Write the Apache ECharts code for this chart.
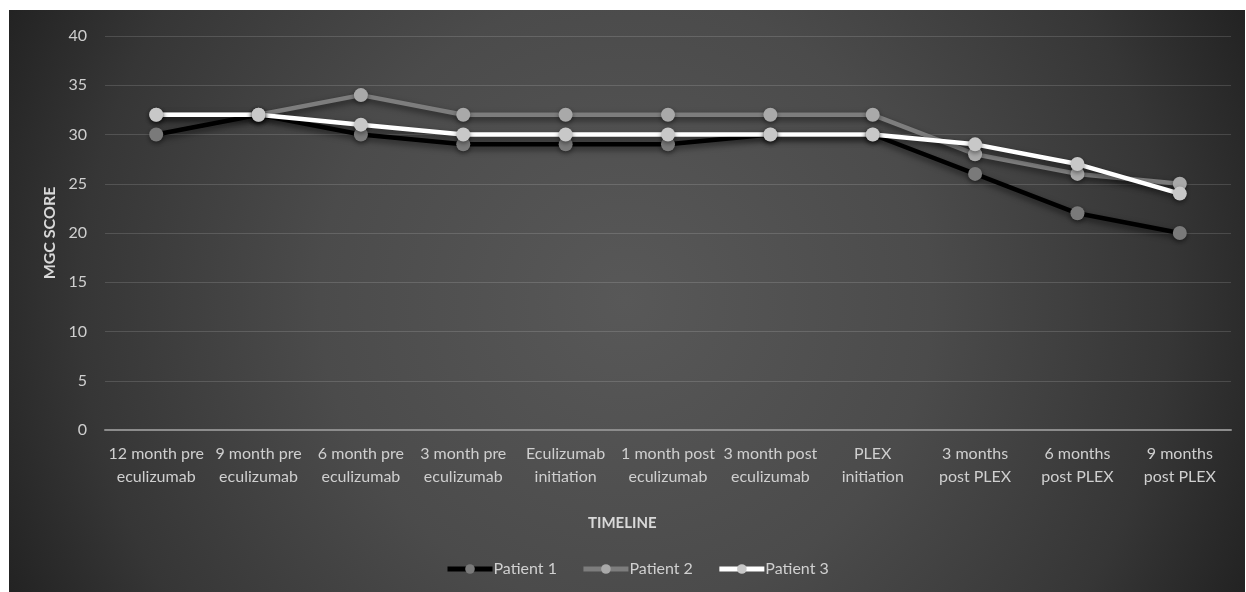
<!DOCTYPE html>
<html>
<head>
<meta charset="utf-8">
<style>
  html, body { margin: 0; padding: 0; background: #ffffff; }
  #chart { width: 1246px; height: 592px; }
</style>
<script src="https://cdn.jsdelivr.net/npm/echarts@6/dist/echarts.min.js"></script>
</head>
<body>
<div id="chart"></div>
<script>
// Timeline categories (two-line labels)
const categories = [
  '12 month pre\neculizumab', '9 month pre\neculizumab', '6 month pre\neculizumab',
  '3 month pre\neculizumab', 'Eculizumab\ninitiation', '1 month post\neculizumab',
  '3 month post\neculizumab', 'PLEX\ninitiation', '3 months\npost PLEX',
  '6 months\npost PLEX', '9 months\npost PLEX'
];

// MGC scores per patient
const patient1 = [30, 32, 30, 29, 29, 29, 30, 30, 26, 22, 20];
const patient2 = [32, 32, 34, 32, 32, 32, 32, 32, 28, 26, 25];
const patient3 = [32, 32, 31, 30, 30, 30, 30, 30, 29, 27, 24];

const seriesNames = ['Patient 1', 'Patient 2', 'Patient 3'];
const yTitle = 'MGC SCORE';
const xTitle = 'TIMELINE';

const FONT = 'Lato, "Open Sans", sans-serif';

const chart = echarts.init(document.getElementById('chart'));

function lineSeries(name, data, lineColor, markerColor) {
  return {
    name: name,
    type: 'line',
    data: data,
    symbol: 'circle',
    symbolSize: 14,
    lineStyle: {
      color: lineColor,
      width: 4.5,
      shadowColor: 'rgba(0,0,0,0.55)',
      shadowBlur: 6,
      shadowOffsetY: 3
    },
    itemStyle: {
      color: markerColor,
      borderWidth: 0,
      shadowColor: 'rgba(0,0,0,0.45)',
      shadowBlur: 5,
      shadowOffsetY: 2
    },
    emphasis: { disabled: true },
    animation: false
  };
}

chart.setOption({
  animation: false,
  graphic: [
    {
      // dark panel with a soft central highlight
      type: 'rect',
      z: -10,
      silent: true,
      shape: { x: 9, y: 10, width: 1236, height: 582 },
      style: {
        fill: {
          type: 'radial', x: 626, y: 300, r: 680, global: true,
          colorStops: [
            { offset: 0, color: '#585858' },
            { offset: 0.45, color: '#4b4b4b' },
            { offset: 0.8, color: '#363636' },
            { offset: 1, color: '#232323' }
          ]
        }
      }
    },
    {
      type: 'text',
      left: 588,
      top: 516,
      style: {
        text: xTitle,
        fill: '#d9d9d9',
        font: 'bold 15px ' + FONT
      }
    }
  ],
  grid: { left: 105, right: 15, top: 36, bottom: 162 },
  legend: {
    data: seriesNames,
    left: 440,
    top: 556,
    itemWidth: 45,
    itemHeight: 12,
    itemGap: 24,
    lineStyle: { width: 5 },
    textStyle: { color: '#d0d0d0', fontSize: 16, fontFamily: FONT, padding: [0, 0, 0, -4] }
  },
  xAxis: {
    type: 'category',
    data: categories,
    boundaryGap: true,
    axisTick: { show: false },
    axisLine: { lineStyle: { color: '#8c8c8c', width: 2 } },
    axisLabel: {
      color: '#cfcfcf',
      fontSize: 16,
      fontFamily: FONT,
      lineHeight: 23,
      margin: 12,
      interval: 0
    }
  },
  yAxis: {
    type: 'value',
    min: 0,
    max: 40,
    interval: 5,
    name: yTitle,
    nameLocation: 'middle',
    nameGap: 46,
    nameRotate: 90,
    nameTextStyle: { color: '#d9d9d9', fontSize: 16, fontWeight: 'bold', fontFamily: FONT },
    axisLine: { show: false },
    axisTick: { show: false },
    axisLabel: { color: '#cfcfcf', fontSize: 16, fontFamily: FONT, margin: 18 },
    splitLine: { lineStyle: { color: 'rgba(255,255,255,0.14)', width: 1 } }
  },
  series: [
    lineSeries(seriesNames[0], patient1, '#000000', '#7a7a7a'),
    lineSeries(seriesNames[1], patient2, '#7d7d7d', '#a9a9a9'),
    lineSeries(seriesNames[2], patient3, '#ffffff', '#c8c8c8')
  ]
});
</script>
</body>
</html>
